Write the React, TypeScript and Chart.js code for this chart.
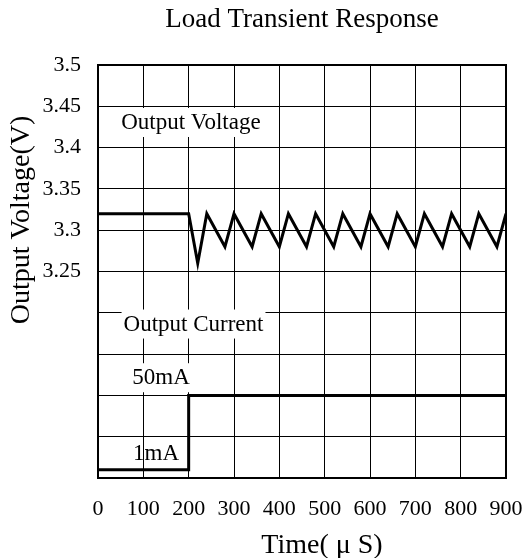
import { useEffect, useRef } from 'react';
import { Chart, registerables } from 'chart.js';

Chart.register(...registerables);

const chartTitle = 'Load Transient Response';
const xAxisTitle = 'Time( \u03BC S)';
const yAxisTitle = 'Output Voltage(V)';

const timeMin = 0;
const timeMax = 900;
const timeStep = 100;
const voltMin = 3.0;
const voltMax = 3.5;
const voltStep = 0.05;
const voltLabelFrom = 3.25;

const voltageTime = [0, 200, 220, 240, 280, 300, 340, 360, 400, 420, 460, 480, 520, 540, 580, 600, 640, 660, 700, 720, 760, 780, 820, 840, 880, 900];
const voltageValue = [3.32, 3.32, 3.26, 3.32, 3.28, 3.32, 3.28, 3.32, 3.28, 3.32, 3.28, 3.32, 3.28, 3.32, 3.28, 3.32, 3.28, 3.32, 3.28, 3.32, 3.28, 3.32, 3.28, 3.32, 3.28, 3.32];

const currentTime = [0, 200, 200, 900];
const currentValue = [3.01, 3.01, 3.1, 3.1];

const labelTexts = ['Output Voltage', 'Output Current', '50mA', '1mA'];
const labelTimes = [205, 210.7, 139, 128];
const labelValues = [3.431, 3.187, 3.122, 3.03];
const labelBoxed = [true, true, true, false];

const FONT = '"Liberation Serif", "Times New Roman", serif';

export default function App() {
  const canvasRef = useRef<HTMLCanvasElement | null>(null);

  useEffect(() => {
    const canvas = canvasRef.current;
    if (!canvas) return;

    const overlay = {
      id: 'overlay',
      beforeDatasetsDraw(chart: any) {
        const ctx = chart.ctx;
        const xs = chart.scales.x;
        const ys = chart.scales.y;
        const area = chart.chartArea;
        ctx.save();
        ctx.font = `23px ${FONT}`;
        ctx.textAlign = 'center';
        ctx.textBaseline = 'middle';
        labelTexts.forEach((t, i) => {
          const cx = xs.getPixelForValue(labelTimes[i]);
          const cy = ys.getPixelForValue(labelValues[i]);
          const w = ctx.measureText(t).width;
          if (labelBoxed[i]) {
            ctx.fillStyle = '#fff';
            ctx.fillRect(cx - w / 2 - 2, cy - 14, w + 4, 29);
          }
          ctx.fillStyle = '#000';
          ctx.fillText(t, cx, cy + 1);
        });
        ctx.strokeStyle = '#000';
        ctx.lineWidth = 2;
        ctx.strokeRect(area.left, area.top, area.right - area.left, area.bottom - area.top);
        ctx.restore();
      },
      afterDraw(chart: any) {
        const ctx = chart.ctx;
        const area = chart.chartArea;
        ctx.save();
        ctx.fillStyle = '#000';
        ctx.font = `27px ${FONT}`;
        ctx.textAlign = 'center';
        ctx.textBaseline = 'alphabetic';
        ctx.fillText(chartTitle, (area.left + area.right) / 2, 27);
        ctx.font = `28px ${FONT}`;
        ctx.fillText(xAxisTitle, 322, 553);
        ctx.translate(29, 220);
        ctx.rotate(-Math.PI / 2);
        ctx.fillText(yAxisTitle, 0, 0);
        ctx.restore();
      },
    };

    const chart = new Chart(canvas, {
      type: 'line',
      data: {
        datasets: [
          {
            label: 'Output Voltage',
            data: voltageTime.map((t, i) => ({ x: t, y: voltageValue[i] })),
            borderColor: '#000',
            borderWidth: 3,
            pointRadius: 0,
            tension: 0,
            fill: false,
          },
          {
            label: 'Output Current',
            data: currentTime.map((t, i) => ({ x: t, y: currentValue[i] })),
            borderColor: '#000',
            borderWidth: 3,
            pointRadius: 0,
            tension: 0,
            fill: false,
          },
        ],
      },
      options: {
        animation: false,
        responsive: true,
        maintainAspectRatio: false,
        devicePixelRatio: 1,
        layout: { padding: { top: 65, right: 19, left: 0, bottom: 0 } },
        plugins: {
          legend: { display: false },
          title: { display: false },
          tooltip: { enabled: false },
        },
        scales: {
          x: {
            type: 'linear',
            min: timeMin,
            max: timeMax,
            ticks: {
              stepSize: timeStep,
              color: '#000',
              font: { family: FONT, size: 22 },
              padding: 18,
              maxRotation: 0,
            },
            grid: { color: '#000', lineWidth: 1, drawTicks: false },
            border: { display: false },
            afterFit: (s: any) => {
              s.height = 80;
              s.paddingLeft = 0;
              s.paddingRight = 0;
            },
          },
          y: {
            type: 'linear',
            min: voltMin,
            max: voltMax,
            ticks: {
              stepSize: voltStep,
              color: '#000',
              font: { family: FONT, size: 22 },
              padding: 17,
              callback: (v: any) => (Number(v) >= voltLabelFrom - 1e-6 ? String(parseFloat(Number(v).toFixed(2))) : ''),
            },
            grid: { color: '#000', lineWidth: 1, drawTicks: false },
            border: { display: false },
            afterFit: (s: any) => {
              s.width = 98;
              s.paddingTop = 0;
              s.paddingBottom = 0;
            },
          },
        },
      },
      plugins: [overlay],
    });

    return () => chart.destroy();
  }, []);

  return (
    <div style={{ position: 'fixed', left: 0, top: 0, width: 525, height: 558, background: '#fff' }}>
      <canvas ref={canvasRef} />
    </div>
  );
}
